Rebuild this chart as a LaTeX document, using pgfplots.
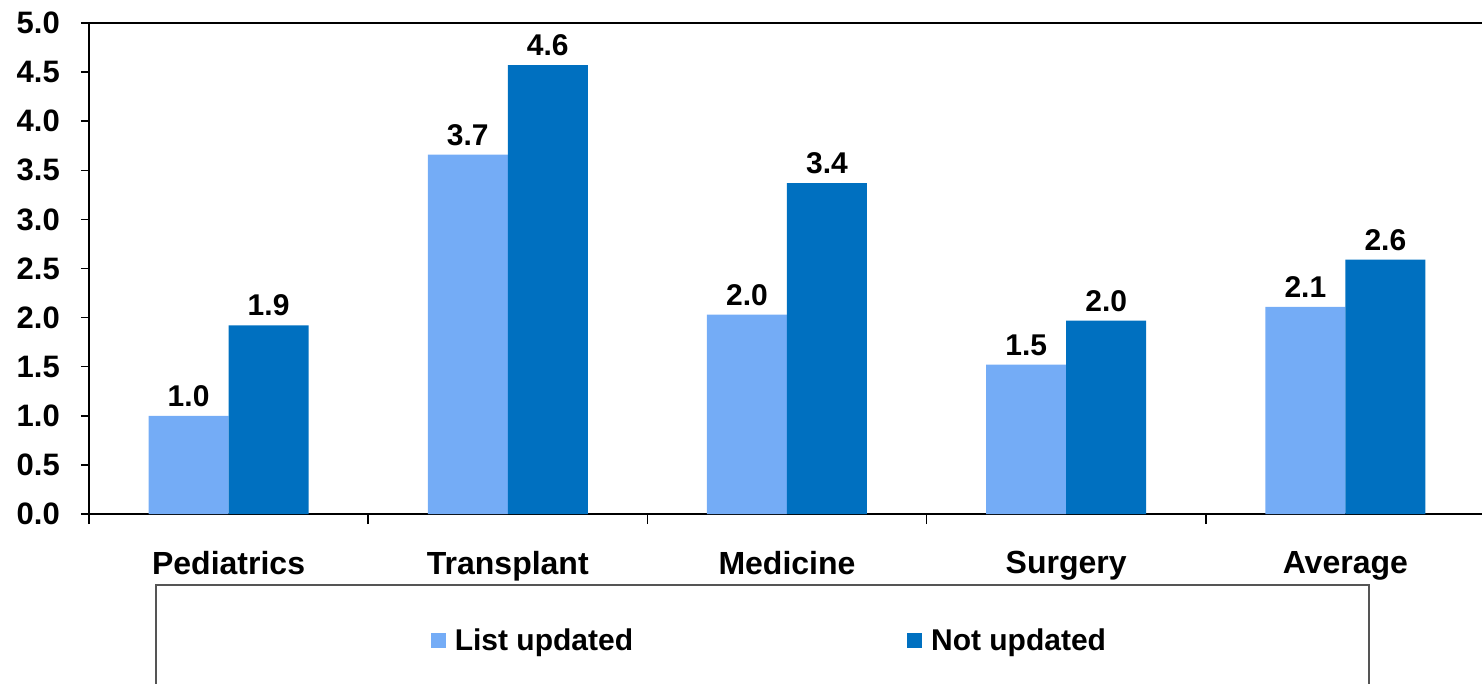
\documentclass[border=0pt]{standalone}
\usepackage{pgfplots}
\pgfplotsset{compat=1.18}
\usepackage{fontspec}
\setmainfont{Liberation Sans}
\definecolor{lightb}{RGB}{116,172,246}
\definecolor{darkb}{RGB}{0,112,192}
\definecolor{boxgray}{RGB}{85,85,85}
\begin{document}
\begin{tikzpicture}
\begin{axis}[
  at={(89pt,169pt)}, anchor=south west,
  scale only axis, width=1396pt, height=491pt,
  xmin=-0.5, xmax=4.5, ymin=0, ymax=5,
  axis line style={line width=2.5pt},
  ytick={0,0.5,...,5},
  yticklabel={\pgfmathprintnumber[fixed,fixed zerofill,precision=1]{\tick}},
  /pgf/number format/assume math mode=true,
  ticklabel style={font=\fontsize{31}{37}\selectfont\bfseries},
  yticklabel style={inner sep=0pt, xshift=-21pt},
  ytick pos=left, xtick pos=lower,
  tick align=outside,
  major tick length=8pt,
  tick style={line width=1.5pt, black},
  xtick={0,1,2,3,4},
  xticklabels={Pediatrics,Transplant,Medicine,Surgery,Average},
  xticklabel style={anchor=north, inner sep=0pt, yshift=-29pt, font=\fontsize{32}{38}\selectfont\bfseries},
  major x tick style={draw=none},
  minor xtick={-0.5,0.5,1.5,2.5,3.5,4.5},
  minor tick length=10pt,
  minor x tick style={line width=1.5pt, black},
  ybar, bar width=80pt,
  nodes near coords={\pgfmathprintnumber[fixed,fixed zerofill,precision=1]{\pgfplotspointmeta}},
  nodes near coords style={anchor=south, inner sep=0pt, yshift=9pt, font=\fontsize{30}{36}\selectfont\bfseries, black},
  legend columns=2,
  legend image code/.code={\path[draw=none,fill=none] (-16pt,-7.5pt) rectangle (20pt,7.5pt); \fill[#1] (0pt,-7.5pt) rectangle (15pt,7.5pt);},
  legend style={at={(axis description cs:0.0473,-0.1426)}, anchor=north west,
    draw=boxgray, line width=1.5pt,
    inner xsep=259pt, inner ysep=40pt,
    font=\fontsize{30}{36}\selectfont\bfseries,
    nodes={inner sep=4pt},
    /tikz/every even column/.append style={column sep=254pt}},
]
\addplot[fill=lightb, draw=none, bar shift=-40pt] coordinates {(0,1.0) (1,3.66) (2,2.03) (3,1.52) (4,2.11)};
\addplot[fill=darkb, draw=none, bar shift=40pt] coordinates {(0,1.92) (1,4.57) (2,3.37) (3,1.97) (4,2.59)};
\legend{List updated, Not updated}
\end{axis}
\pgfresetboundingbox
\useasboundingbox (0,0) rectangle (1482pt,683pt);
\end{tikzpicture}
\end{document}
